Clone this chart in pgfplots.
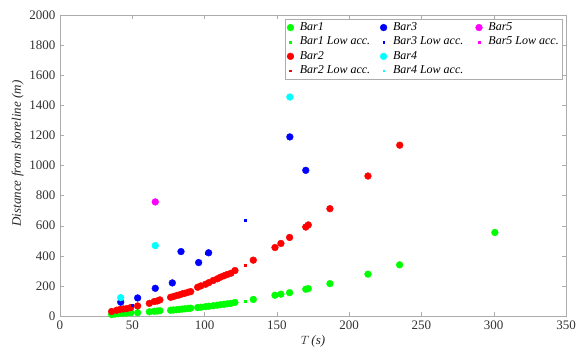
\documentclass[border=0pt]{standalone}
\usepackage{pgfplots}
\pgfplotsset{compat=1.18}
\usepackage{fontspec}
\setmainfont{Liberation Serif}
\definecolor{cgreen}{rgb}{0,1,0}
\definecolor{cred}{rgb}{1,0,0}
\definecolor{cblue}{rgb}{0,0,1}
\definecolor{ccyan}{rgb}{0,1,1}
\definecolor{cmag}{rgb}{1,0,1}
\begin{document}
\fontsize{13}{15}\selectfont
\begin{tikzpicture}
\useasboundingbox (-60pt,-36pt) rectangle (525pt,316pt);
\begin{axis}[
 at={(0,0)}, anchor=south west,
 scale only axis, width=506pt, height=301pt,
 xmin=0, xmax=350, ymin=0, ymax=2000,
 xtick={0,50,...,350}, ytick={0,200,...,2000},
 axis line style={draw=gray!65},
 tick style={draw=gray!65},
 tick align=inside, major tick length=4pt,
 ticklabel style={font=\fontsize{13}{15}\selectfont, text=black!80},
 /pgf/number format/assume math mode=true,
 /pgf/number format/1000 sep={},
 xlabel={$T$\,(\textit{s})},
 ylabel={Distance from shoreline (m)},
 label style={font=\fontsize{13}{15}\selectfont\itshape, text=black!85},
 xlabel style={yshift=3pt},
 ylabel style={at={(ticklabel cs:0.54)}, yshift=-3pt},
 only marks,
 legend style={at={(0.993,0.987)}, anchor=north east, draw=gray!65,
   font=\fontsize{12}{14}\selectfont\itshape, inner sep=1.5pt,
   /tikz/every even column/.append style={column sep=8pt},
   /tikz/every odd column/.append style={column sep=4pt},
   row sep=0.5pt},
 legend cell align=left,
 legend columns=3,
 legend image code/.code={\draw plot coordinates {(0.2cm,0cm)};},
]
% Bar1
\addplot[forget plot, mark=*, mark size=3.4pt, draw=cgreen, fill=cgreen] coordinates {
(35.7,10) (38,13) (40,15) (42,17) (44,19) (46,20) (49,22) (53.7,22)
(61.8,28) (65.2,31) (67.3,33) (69.1,35) (76.5,38) (78.4,40) (80.7,42) (82.5,44)
(84.6,46) (86.4,48) (88.7,50) (90.4,52) (95.2,56) (97.5,58) (100.7,62) (103,65)
(106,68) (108.8,72) (111,75) (113.4,78) (115.7,81) (118.2,84) (121,90) (133.7,110)
(148.7,138) (152.8,145) (158.8,155) (170,178) (171.7,182) (186.7,215) (213,278)
(234.9,340) (300.8,555)};
\addplot[forget plot, mark=square*, mark size=0.9pt, draw=cgreen, fill=cgreen] coordinates {(128,100)};
% Bar2
\addplot[forget plot, mark=*, mark size=3.4pt, draw=cred, fill=cred] coordinates {
(35.7,30) (39.2,38) (41.5,44) (43.8,47) (46.1,49) (48.9,56) (53.7,67)
(61.8,84) (65.2,96) (67.3,100) (69.1,107) (76.5,124) (78.4,129) (80.7,136) (82.5,140)
(84.6,147) (86.4,151) (88.7,158) (90.4,162) (95.2,191) (97.5,200) (100.7,211) (103,222)
(106,236) (108.8,247) (111,258) (113.4,267) (115.7,276) (118.2,284) (121,302)
(133.7,371) (148.7,455) (152.8,482) (158.8,522) (170,591) (171.7,605) (186.7,713)
(213,930) (235,1135)};
\addplot[forget plot, mark=square*, mark size=0.9pt, draw=cred, fill=cred] coordinates {(128,338)};
% Bar3
\addplot[forget plot, mark=*, mark size=3.4pt, draw=cblue, fill=cblue] coordinates {
(42,92) (53.7,120) (65.9,184) (77.7,220) (83.7,428) (95.9,355) (102.8,420) (159,1190) (170,968)};
\addplot[forget plot, mark=square*, mark size=0.9pt, draw=cblue, fill=cblue] coordinates {(49.7,70) (101,415) (128,636)};
% Bar4
\addplot[forget plot, mark=*, mark size=3.4pt, draw=ccyan, fill=ccyan] coordinates {(42,122) (65.9,468) (159,1455)};
% Bar5
\addplot[forget plot, mark=*, mark size=3.4pt, draw=cmag, fill=cmag] coordinates {(65.9,758)};
% legend (row-wise)
\addlegendimage{only marks, mark=*, mark size=3.4pt, draw=cgreen, fill=cgreen}
\addlegendentry{Bar1}
\addlegendimage{only marks, mark=*, mark size=3.4pt, draw=cblue, fill=cblue}
\addlegendentry{Bar3}
\addlegendimage{only marks, mark=*, mark size=3.4pt, draw=cmag, fill=cmag}
\addlegendentry{Bar5}
\addlegendimage{only marks, mark=square*, mark size=0.9pt, draw=cgreen, fill=cgreen}
\addlegendentry{Bar1 Low acc.}
\addlegendimage{only marks, mark=square*, mark size=0.9pt, draw=cblue, fill=cblue}
\addlegendentry{Bar3 Low acc.}
\addlegendimage{only marks, mark=square*, mark size=0.9pt, draw=cmag, fill=cmag}
\addlegendentry{Bar5 Low acc.}
\addlegendimage{only marks, mark=*, mark size=3.4pt, draw=cred, fill=cred}
\addlegendentry{Bar2}
\addlegendimage{only marks, mark=*, mark size=3.4pt, draw=ccyan, fill=ccyan}
\addlegendentry{Bar4}
\addlegendimage{empty legend}
\addlegendentry{}
\addlegendimage{only marks, mark=square*, mark size=0.9pt, draw=cred, fill=cred}
\addlegendentry{Bar2 Low acc.}
\addlegendimage{only marks, mark=square*, mark size=0.9pt, draw=ccyan, fill=ccyan}
\addlegendentry{Bar4 Low acc.}
\end{axis}
\end{tikzpicture}
\end{document}
